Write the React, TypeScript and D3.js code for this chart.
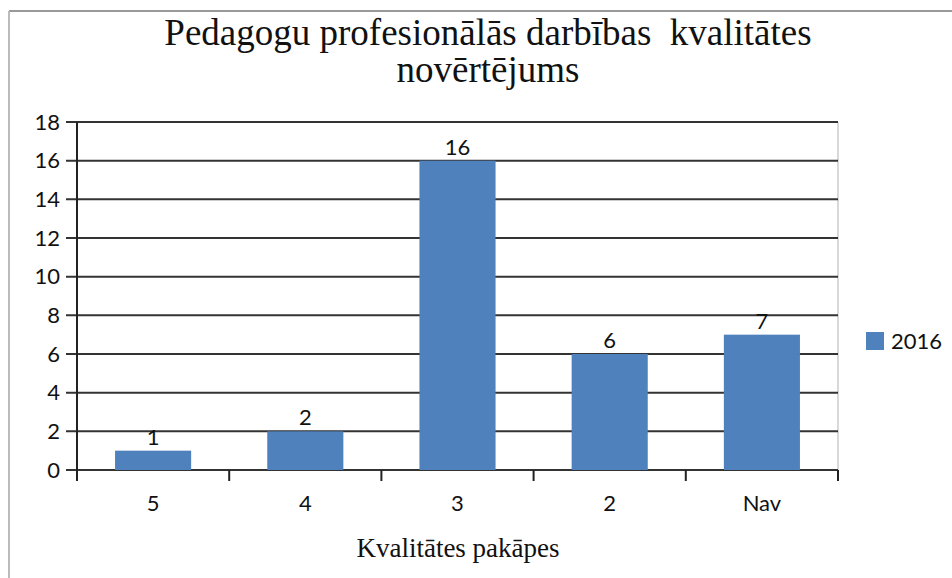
import React from "react";
import * as d3 from "d3";

const categories = ["5", "4", "3", "2", "Nav"];
const values2016 = [1, 2, 16, 6, 7];
const yTicks = [0, 2, 4, 6, 8, 10, 12, 14, 16, 18];
const seriesName = "2016";
const titleLines = ["Pedagogu profesionālās darbības  kvalitātes", "novērtējums"];
const xTitle = "Kvalitātes pakāpes";

export default function App() {
  const W = 952, H = 578;
  const left = 77, right = 838, top = 122, bottom = 470;
  const x = d3.scaleBand().domain(categories).range([left, right]).paddingInner(0.5).paddingOuter(0.25);
  const xb = d3.scaleBand().domain(categories).range([left, right]);
  const y = d3.scaleLinear().domain([0, 18]).range([bottom, top]);
  const sans = "Lato, 'Open Sans', sans-serif";
  const serif = "'Liberation Serif', 'Times New Roman', serif";
  return (
    <svg width={W} height={H} style={{ position: "absolute", left: 0, top: 0 }}>
      <rect x={0} y={0} width={W} height={H} fill="#fff" />
      <line x1={9} y1={11} x2={W} y2={11} stroke="#999" strokeWidth={2} />
      <line x1={9} y1={11} x2={9} y2={H} stroke="#bbb" strokeWidth={2} />
      {titleLines.map((t, i) => (
        <text key={i} x={488} y={45 + i * 37} textAnchor="middle" fontFamily={serif} fontSize={37} fill="#111" style={{ whiteSpace: "pre" }} xmlSpace="preserve">{t}</text>
      ))}
      <line x1={right} y1={top} x2={right} y2={bottom} stroke="#ccc" strokeWidth={1.5} />
      {yTicks.map((t) => (
        <g key={t}>
          <line x1={66} x2={right} y1={y(t)} y2={y(t)} stroke="#333" strokeWidth={2} />
          <text x={60} y={y(t)} dy="0.35em" textAnchor="end" fontFamily={sans} fontSize={22} fill="#111">{t}</text>
        </g>
      ))}
      <line x1={left} x2={left} y1={top} y2={481} stroke="#222" strokeWidth={2} />
      {categories.map((c) => (
        <line key={c} x1={(xb(c) as number) + xb.bandwidth()} x2={(xb(c) as number) + xb.bandwidth()} y1={bottom} y2={481} stroke="#222" strokeWidth={2} />
      ))}
      {categories.map((c, i) => (
        <g key={c}>
          <rect x={x(c)} y={y(values2016[i])} width={x.bandwidth()} height={bottom - y(values2016[i])} fill="#4F81BD" />
          <text x={(x(c) as number) + x.bandwidth() / 2} y={y(values2016[i]) - 6} textAnchor="middle" fontFamily={sans} fontSize={22} fill="#111">{values2016[i]}</text>
          <text x={(x(c) as number) + x.bandwidth() / 2} y={503} dy="0.35em" textAnchor="middle" fontFamily={sans} fontSize={22} fill="#111">{c}</text>
        </g>
      ))}
      <text x={458} y={557} textAnchor="middle" fontFamily={serif} fontSize={27} fill="#111">{xTitle}</text>
      <rect x={866} y={332} width={18} height={18} fill="#4F81BD" />
      <text x={891} y={341} dy="0.35em" fontFamily={sans} fontSize={22} fill="#111">{seriesName}</text>
    </svg>
  );
}
